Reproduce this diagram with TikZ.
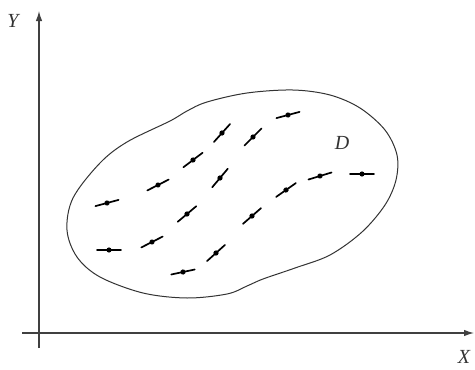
\documentclass[tikz,border=0pt]{standalone}
\usepackage{fontspec}
\setmainfont{Liberation Serif}
\usetikzlibrary{arrows.meta}
\tikzset{
  axis/.style={line width=1.2pt, draw=black!75, -{Latex[length=10pt,width=6.5pt]}},
  region/.style={line width=1pt, draw=black!80},
  lbl/.style={font=\fontsize{20}{20}\selectfont\itshape, inner sep=0pt, text=black!80},
  dipole/.pic={\draw[line width=1.7pt, line cap=round] (-12,0)--(12,0); \fill (0,0) circle (2.6);}
}
\begin{document}
\begin{tikzpicture}[x=1pt,y=-1pt]
\useasboundingbox (0,0) rectangle (475,370);
% axes
\coordinate (ybot) at (39,348);
\coordinate (ytop) at (39,11);
\coordinate (xl) at (22,333);
\coordinate (xr) at (474,333);
\draw[axis] (ybot) -- (ytop);
\draw[axis] (xl) -- (xr);
\node[lbl] (Ylab) at (13,21) {Y};
\node[lbl] (Xlab) at (464,357) {X};
% region
\draw[region] plot[smooth cycle, tension=0.55] coordinates {
(67,230) (73,198) (100,163) (127,142) (170,121) (187,111) (207,102) (247,93)
(293,90) (330,95) (360,108) (385,130) (397,155) (396,180) (385,205) (362,232)
(330,255) (295,268) (263,279) (247,286) (227,294) (187,298) (143,293) (100,277) (77,257)};
\node[lbl] (Dlab) at (342,143) {D};
% line elements
\foreach \px/\py/\a in {
107/203/15, 158/185/27, 193/160/37, 222/133/48, 253/137/45, 288/115/15,
220/178/50, 187/214/40, 252/216/41, 286/190/35, 320/176/17, 362/174/0,
152/242/27, 109/250/0, 216/253/42, 183/272/12}
  \pic[rotate=\a] at (\px,\py) {dipole};
\end{tikzpicture}
\end{document}
